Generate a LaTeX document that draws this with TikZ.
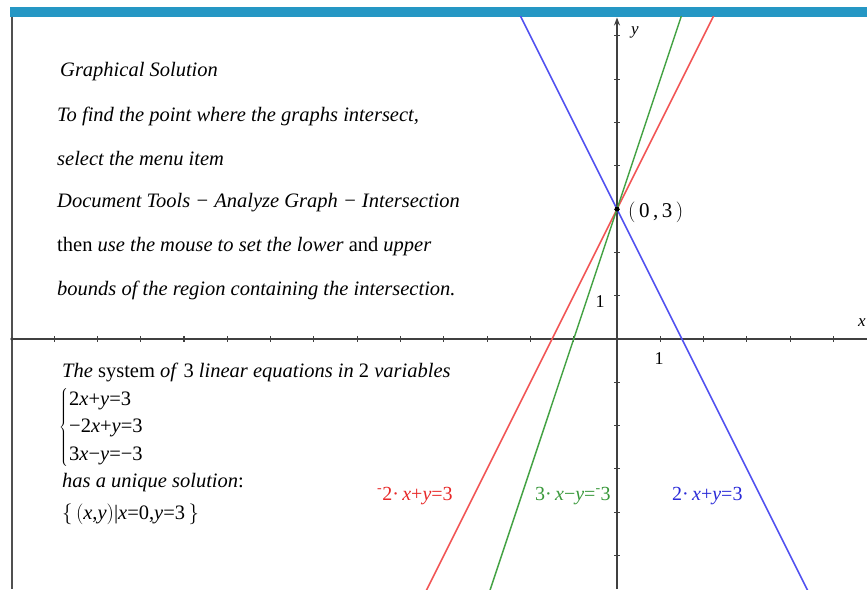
\documentclass[tikz,border=0pt]{standalone}
\usepackage{fontspec}
\setmainfont{Liberation Serif}
\usetikzlibrary{arrows.meta}
\definecolor{barblue}{HTML}{2597C4}
\definecolor{lblue}{HTML}{5050F0}
\definecolor{lred}{HTML}{F25555}
\definecolor{lgreen}{HTML}{45A345}
\definecolor{tblue}{HTML}{2A2AD8}
\definecolor{tred}{HTML}{E82828}
\definecolor{tgreen}{HTML}{38983A}
\definecolor{axisgray}{HTML}{404040}
\definecolor{bordergray}{HTML}{505050}
\begin{document}
\begin{tikzpicture}[x=1pt,y=-1pt,
  txt/.style={anchor=base west, inner sep=0pt, font=\fontsize{20.5}{24}\selectfont},
  eqlabel/.style={anchor=base west, inner sep=0pt, font=\fontsize{20}{22}\selectfont},
  axisline/.style={axisgray, line width=1.4pt},
  tick/.style={axisgray, line width=1.1pt},
  graphline/.style={line width=1.5pt}]
\useasboundingbox (0,0) rectangle (867,589);
\fill[white] (0,0) rectangle (867,589);
% top bar and left border
\fill[barblue] (10,7) rectangle (867,16.5);
\coordinate (bordertop) at (12,16.5);
\coordinate (borderbot) at (12,589);
\draw[bordergray, line width=2.8pt] (bordertop) -- (borderbot);
% axes
\coordinate (xl) at (12,339);
\coordinate (xr) at (867,339);
\coordinate (yb) at (617,589);
\coordinate (yt) at (617,17.5);
\draw[axisline] (xl) -- (xr);
\fill[axisgray] (xl) circle (1.8pt);
\draw[axisline, -{Stealth[length=8pt,width=6pt]}] (yb) -- (yt);
\foreach \i in {-13,...,-1,1,2,...,5}
  \draw[tick] ({617+\i*43.3},336) -- ++(0,6);
\foreach \j in {-5,...,-1,1,2,...,7}
  \draw[tick] (614,{339-\j*43.3}) -- ++(6,0);
\node[anchor=center, font=\fontsize{17}{18}\selectfont\itshape] (ylab) at (635,32) {y};
\node[anchor=center, font=\fontsize{17}{18}\selectfont\itshape] (xlab) at (862,323) {x};
\node[anchor=center, font=\fontsize{18}{18}\selectfont] (one1) at (659,359) {1};
\node[anchor=center, font=\fontsize{18}{18}\selectfont] (one2) at (600,302) {1};
% lines
\begin{scope}
\clip (12,16.5) rectangle (867,589);
\begin{scope}[shift={(617,339)}, x=43.3pt, y=43.3pt]
  \coordinate (b1) at (-2.5,8);   \coordinate (b2) at (4.5,-6);
  \coordinate (r1) at (2.5,8);    \coordinate (r2) at (-4.5,-6);
  \coordinate (g1) at ({5/3},8);  \coordinate (g2) at (-3,-6);
  \draw[graphline, lblue] (b1) -- (b2);
  \draw[graphline, lred] (r1) -- (r2);
  \draw[graphline, lgreen] (g1) -- (g2);
  \node[circle, fill=black, inner sep=0pt, minimum size=5pt] (P) at (0,3) {};
\end{scope}
\end{scope}
\node[anchor=base west, inner sep=0pt, font=\fontsize{21}{24}\selectfont] (Plab) at (628,217) {$\Bigl($\,0\,,\,3\,$\Bigr)$};
% graph labels
\node[eqlabel, tred] (lr) at (377,500) {\textsuperscript{-}2·\,\textit{x}+\textit{y}=3};
\node[eqlabel, tgreen] (lg) at (535,500) {3·\,\textit{x}−\textit{y}=\textsuperscript{-}3};
\node[eqlabel, tblue] (lb) at (672,500) {2·\,\textit{x}+\textit{y}=3};
% upper text
\node[txt] (t1) at (60,76) {\itshape Graphical Solution};
\node[txt] (t2) at (57,121) {\itshape To find the point where the graphs intersect,};
\node[txt] (t3) at (57,165) {\itshape select the menu item};
\node[txt] (t4) at (57,207) {\itshape Document Tools − Analyze Graph − Intersection};
\node[txt] (t5) at (57,251) {then \textit{use the mouse to set the lower} and \textit{upper}};
\node[txt] (t6) at (57,295) {\itshape bounds of the region containing the intersection.};
% lower text
\node[txt] (t7) at (62,377) {\textit{The} system \textit{of} 3 \textit{linear equations in} 2 \textit{variables}};
\node[anchor=north west, inner sep=0pt, font=\fontsize{20.5}{27.5}\selectfont] (sys) at (59,386)
  {$\left\{\mskip1mu\begin{tabular}{@{}l@{}}2\textit{x}+\textit{y}=3\\−2\textit{x}+\textit{y}=3\\3\textit{x}−\textit{y}=−3\end{tabular}\right.$};
\node[txt] (t8) at (62,487) {\itshape has a unique solution\upshape:};
\node[txt] (t9) at (62,519) {$\biggl\{\,\Bigl($\textit{x},\textit{y}$\Bigr)$|\textit{x}=0,\textit{y}=3$\,\biggr\}$};
\end{tikzpicture}
\end{document}
